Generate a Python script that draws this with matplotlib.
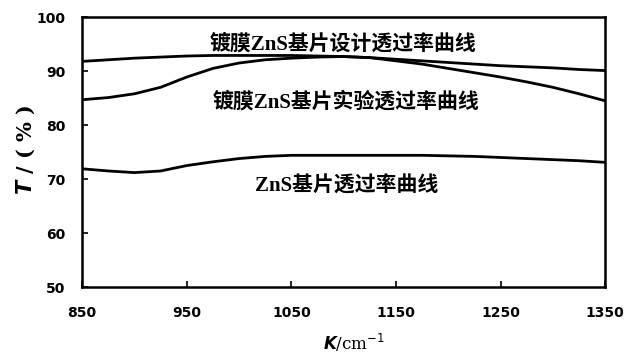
import numpy as np
import matplotlib
matplotlib.use("Agg")
import matplotlib.pyplot as plt

# wavenumber, cm^-1
wavenumber = [850, 875, 900, 925, 950, 975, 1000, 1025, 1050, 1075, 1100,
              1125, 1150, 1175, 1200, 1225, 1250, 1275, 1300, 1325, 1350]

# transmittance, %
t_design = [91.8, 92.1, 92.4, 92.6, 92.8, 92.9, 92.9, 92.9, 92.9, 92.8, 92.7,
            92.5, 92.2, 91.9, 91.6, 91.3, 91.0, 90.8, 90.6, 90.3, 90.1]
t_coated = [84.7, 85.1, 85.8, 87.0, 88.9, 90.5, 91.5, 92.1, 92.4, 92.6, 92.7,
            92.5, 91.9, 91.3, 90.5, 89.7, 88.9, 88.0, 87.0, 85.8, 84.5]
t_bare = [71.9, 71.5, 71.2, 71.5, 72.5, 73.2, 73.8, 74.2, 74.4, 74.4, 74.4,
          74.4, 74.4, 74.4, 74.3, 74.2, 74.0, 73.8, 73.6, 73.4, 73.1]

labels = ["镀膜ZnS基片设计透过率曲线", "镀膜ZnS基片实验透过率曲线", "ZnS基片透过率曲线"]
xticks = [850, 950, 1050, 1150, 1250, 1350]
yticks = [50, 60, 70, 80, 90, 100]

cjk = ["Liberation Serif", "Noto Sans CJK SC"]

fig = plt.figure(figsize=(6.37, 3.57), dpi=100)
ax = fig.add_axes([0.129, 0.196, 0.821, 0.756])

for t in (t_design, t_coated, t_bare):
    ax.plot(wavenumber, t, color="black", lw=2.0, solid_capstyle="butt")

ax.set_xlim(850, 1350)
ax.set_ylim(50, 100)
ax.set_xticks(xticks)
ax.set_yticks(yticks)
ax.tick_params(direction="in", length=4, width=1.2, labelsize=10)
ax.tick_params(axis="x", pad=14)
ax.tick_params(axis="y", pad=12)
for lab in ax.get_xticklabels() + ax.get_yticklabels():
    lab.set_fontweight("bold")
for s in ax.spines.values():
    s.set_linewidth(1.8)

# curve names
ax.text(1099, 95.0, labels[0], ha="center", va="center", fontsize=15,
        fontweight="bold", family=cjk)
ax.text(1102, 84.3, labels[1], ha="center", va="center", fontsize=15,
        fontweight="bold", family=cjk)
ax.text(1103, 68.7, labels[2], ha="center", va="center", fontsize=15,
        fontweight="bold", family=cjk)

fig.text(0.04, 0.58, r"$\boldsymbol{T}$ / ( % )", rotation=90, ha="center",
         va="center", fontsize=15, fontweight="bold", family="DejaVu Serif")
fig.text(0.555, 0.04, r"$\boldsymbol{K}$/cm$^{-1}$", ha="center", va="center",
         fontsize=12, family="DejaVu Serif")

fig.savefig("out.png", dpi=100)
